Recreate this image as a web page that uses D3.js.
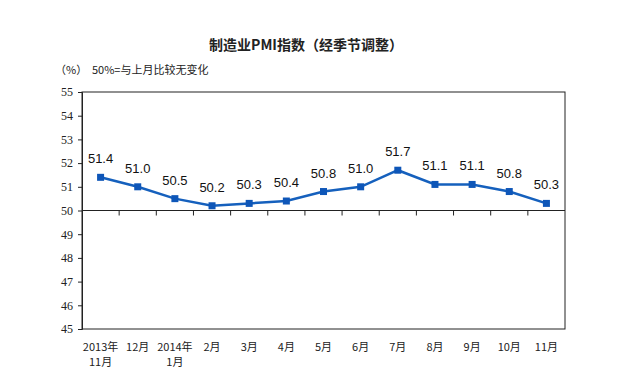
<!DOCTYPE html>
<html>
<head>
<meta charset="utf-8">
<script src="https://cdn.jsdelivr.net/npm/d3@7"></script>
<style>
  body { margin: 0; background: #fff; }
  svg { display: block; }
</style>
</head>
<body>
<div id="chart"></div>
<script>
// month labels (line 1 / line 2) and PMI values
const months = ['2013年', '12月', '2014年', '2月', '3月', '4月', '5月', '6月', '7月', '8月', '9月', '10月', '11月'];
const monthsLine2 = ['11月', '', '1月', '', '', '', '', '', '', '', '', '', ''];
const pmi = [51.4, 51.0, 50.5, 50.2, 50.3, 50.4, 50.8, 51.0, 51.7, 51.1, 51.1, 50.8, 50.3];
const yTicks = [45, 46, 47, 48, 49, 50, 51, 52, 53, 54, 55];

const width = 625, height = 387;
const margin = { top: 92, right: 60, bottom: 58, left: 82 };

const svg = d3.select('#chart').append('svg')
  .attr('width', width)
  .attr('height', height);

const x = d3.scaleBand()
  .domain(d3.range(pmi.length))
  .range([margin.left, width - margin.right]);

const y = d3.scaleLinear()
  .domain([45, 55])
  .range([height - margin.bottom, margin.top]);

const cjk = '"Noto Sans CJK SC", "Liberation Sans", sans-serif';

// title
svg.append('text')
  .attr('x', 306).attr('y', 50)
  .attr('text-anchor', 'middle')
  .style('font-family', cjk)
  .style('font-size', '14px')
  .style('font-weight', 'bold')
  .attr('fill', '#222')
  .text('制造业PMI指数（经季节调整）');

svg.append('text')
  .attr('x', 55).attr('y', 74)
  .style('font-family', cjk)
  .style('font-size', '11px')
  .attr('fill', '#222')
  .text('（%）');

svg.append('text')
  .attr('x', 92).attr('y', 74)
  .style('font-family', cjk)
  .style('font-size', '11px')
  .attr('fill', '#222')
  .text('50%=与上月比较无变化');

// frame
svg.append('rect')
  .attr('x', margin.left).attr('y', margin.top)
  .attr('width', width - margin.left - margin.right)
  .attr('height', height - margin.top - margin.bottom)
  .attr('fill', 'none')
  .attr('stroke', '#222')
  .attr('stroke-width', 1);

// y axis
const yAxis = svg.append('g')
  .attr('transform', `translate(${margin.left},0)`)
  .call(d3.axisLeft(y).tickValues(yTicks).tickSize(4).tickPadding(5));
yAxis.select('.domain').attr('stroke', '#222');
yAxis.selectAll('.tick line').attr('stroke', '#222');
yAxis.selectAll('.tick text')
  .style('font-family', '"Liberation Serif", serif')
  .style('font-size', '12px')
  .attr('fill', '#222');

// category axis crossing at 50
const base = y(50);
svg.append('line')
  .attr('x1', margin.left).attr('x2', width - margin.right)
  .attr('y1', base).attr('y2', base)
  .attr('stroke', '#222');
svg.selectAll('.cat-tick')
  .data(d3.range(1, pmi.length))
  .join('line')
  .attr('class', 'cat-tick')
  .attr('x1', d => x(d)).attr('x2', d => x(d))
  .attr('y1', base).attr('y2', base + 5)
  .attr('stroke', '#222');

// x labels below the plot
const xl = svg.append('g')
  .style('font-family', cjk)
  .style('font-size', '11px')
  .attr('fill', '#222')
  .attr('text-anchor', 'middle');
xl.selectAll('.l1').data(months).join('text')
  .attr('class', 'l1')
  .attr('x', (d, i) => x(i) + x.bandwidth() / 2)
  .attr('y', 351)
  .text(d => d);
xl.selectAll('.l2').data(monthsLine2).join('text')
  .attr('class', 'l2')
  .attr('x', (d, i) => x(i) + x.bandwidth() / 2)
  .attr('y', 366)
  .text(d => d);

// line + markers
const cx = i => x(i) + x.bandwidth() / 2;
const line = d3.line()
  .x((d, i) => cx(i))
  .y(d => y(d));

svg.append('path')
  .datum(pmi)
  .attr('d', line)
  .attr('fill', 'none')
  .attr('stroke', '#1560bd')
  .attr('stroke-width', 2.5);

svg.selectAll('.pt').data(pmi).join('rect')
  .attr('class', 'pt')
  .attr('x', (d, i) => cx(i) - 3.5)
  .attr('y', d => y(d) - 3.5)
  .attr('width', 7).attr('height', 7)
  .attr('fill', '#0e56b8');

svg.selectAll('.val').data(pmi).join('text')
  .attr('class', 'val')
  .attr('x', (d, i) => cx(i))
  .attr('y', d => y(d) - 14)
  .attr('text-anchor', 'middle')
  .style('font-family', '"Liberation Sans", Arial, sans-serif')
  .style('font-size', '13px')
  .attr('fill', '#111')
  .text(d => d.toFixed(1));
</script>
</body>
</html>
